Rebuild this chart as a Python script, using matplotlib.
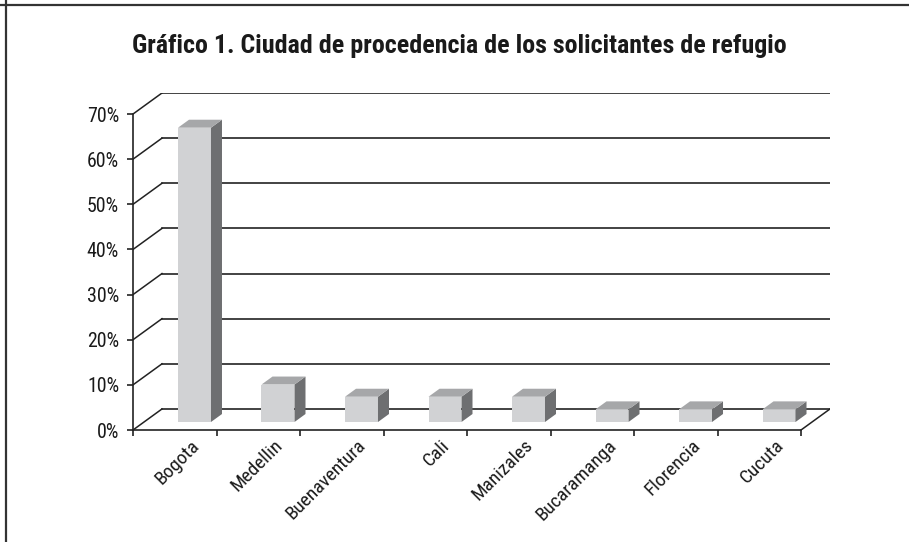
import matplotlib
matplotlib.use("Agg")
import matplotlib.pyplot as plt
from matplotlib.patches import Polygon
from matplotlib.lines import Line2D
from matplotlib.transforms import ScaledTranslation
from matplotlib import font_manager as fm

# ---- data ----
title = "Gráfico 1. Ciudad de procedencia de los solicitantes de refugio"
cities = ["Bogota", "Medellin", "Buenaventura", "Cali", "Manizales",
          "Bucaramanga", "Florencia", "Cucuta"]
values = [65.2, 8.3, 5.6, 5.6, 5.6, 2.8, 2.8, 2.8]
yticks = [0, 10, 20, 30, 40, 50, 60, 70]
ytick_labels = ["0%", "10%", "20%", "30%", "40%", "50%", "60%", "70%"]

# ---- font choice: prefer a narrow/condensed face if installed ----
names = {f.name for f in fm.fontManager.ttflist}
cond = [f for f in fm.fontManager.ttflist
        if ("Narrow" in f.name or "Condensed" in f.name
            or f.stretch in ("condensed", "semi-condensed", "extra-condensed"))]
FAMILY = "Liberation Sans"
STRETCH = "normal"
for pref in ["Liberation Sans Narrow", "Roboto Condensed", "Open Sans Condensed",
             "Noto Sans Condensed", "DejaVu Sans Condensed"]:
    if pref in names:
        FAMILY = pref
        break
else:
    for f in cond:
        if f.name in ("DejaVu Sans", "Noto Sans", "Open Sans", "Roboto", "Liberation Sans"):
            FAMILY, STRETCH = f.name, f.stretch
            break
plt.rcParams["font.family"] = [FAMILY, "DejaVu Sans"]
plt.rcParams["font.stretch"] = STRETCH

FRONT = "#d1d2d4"
SIDE = "#6e6f71"
TOP = "#a6a7a9"
GRID = "#222222"
TXT = "#1a1a1a"

DX = 0.347   # depth offset in category units
DY = 4.66    # depth offset in percent units
n = len(cities)

fig = plt.figure(figsize=(9.09, 5.42), dpi=100)
W, H = 909, 542
renderer = fig.canvas.get_renderer()


def fit_size(s, target_px, weight="normal"):
    t = fig.text(0, 0, s, fontsize=10, fontweight=weight)
    w = t.get_window_extent(renderer).width
    t.remove()
    return 10 * target_px / w


ax = fig.add_axes([133 / W, (H - 430) / H, 697 / W, 337 / H])
ax.set_xlim(0, n + DX)
ax.set_ylim(0, 70 + DY)

# walls / grid
for t in yticks:
    ax.add_line(Line2D([DX, n + DX], [t + DY, t + DY], color=GRID, lw=1.2, zorder=1))
    ax.add_line(Line2D([0, DX], [t, t + DY], color=GRID, lw=1.1, zorder=1))
ax.add_line(Line2D([n, n + DX], [0, DY], color=GRID, lw=1.1, zorder=1))

# bars
f0 = 0.38  # front face depth fraction
f1 = 0.38  # bar depth fraction
bx0, bx1 = 0.407, 0.802
for i, v in enumerate(values):
    ox, oy = f0 * DX, f0 * DY
    dx, dy = f1 * DX, f1 * DY
    x0, x1 = i + bx0 + ox, i + bx1 + ox
    yb, yt = oy, oy + v
    ax.add_patch(Polygon([(x0, yb), (x1, yb), (x1, yt), (x0, yt)],
                         closed=True, facecolor=FRONT, edgecolor="none", zorder=3))
    ax.add_patch(Polygon([(x1, yb), (x1 + dx, yb + dy), (x1 + dx, yt + dy), (x1, yt)],
                         closed=True, facecolor=SIDE, edgecolor="none", zorder=3))
    ax.add_patch(Polygon([(x0, yt), (x1, yt), (x1 + dx, yt + dy), (x0 + dx, yt + dy)],
                         closed=True, facecolor=TOP, edgecolor="none", zorder=3))

# spines
for s in ["top", "right"]:
    ax.spines[s].set_visible(False)
ax.spines["left"].set_bounds(0, 70)
ax.spines["bottom"].set_bounds(0, n)
for s in ["left", "bottom"]:
    ax.spines[s].set_color(GRID)
    ax.spines[s].set_linewidth(1.2)

ysize = fit_size("70%", 32)
ax.set_yticks(yticks)
ax.set_yticklabels(ytick_labels, fontsize=ysize, color=TXT)
ax.set_xticks(range(n + 1))
ax.set_xticklabels([])
ax.tick_params(axis="both", direction="out", length=4, width=1.2, color=GRID)
ax.tick_params(axis="y", pad=6)

csize = fit_size("Buenaventura", 104)
trans = ax.transData + ScaledTranslation(11 / 72, -4.5 / 72, fig.dpi_scale_trans)
for i, c in enumerate(cities):
    ax.text(i + 0.5, 0, c, transform=trans, rotation=45, rotation_mode="anchor",
            ha="right", va="top", fontsize=csize, color=TXT)

tsize = fit_size(title, 657, weight="bold")
fig.text(459.5 / W, 1 - 53 / H, title, ha="center", va="baseline",
         fontsize=tsize, fontweight="bold", color=TXT)

# frame lines
fig.add_artist(Line2D([0, 1], [1 - 4.5 / H, 1 - 4.5 / H], transform=fig.transFigure,
                      color="#333333", lw=1.6))
fig.add_artist(Line2D([5.5 / W, 5.5 / W], [0, 1], transform=fig.transFigure,
                      color="#333333", lw=1.6))

fig.savefig("out.png", dpi=100)
